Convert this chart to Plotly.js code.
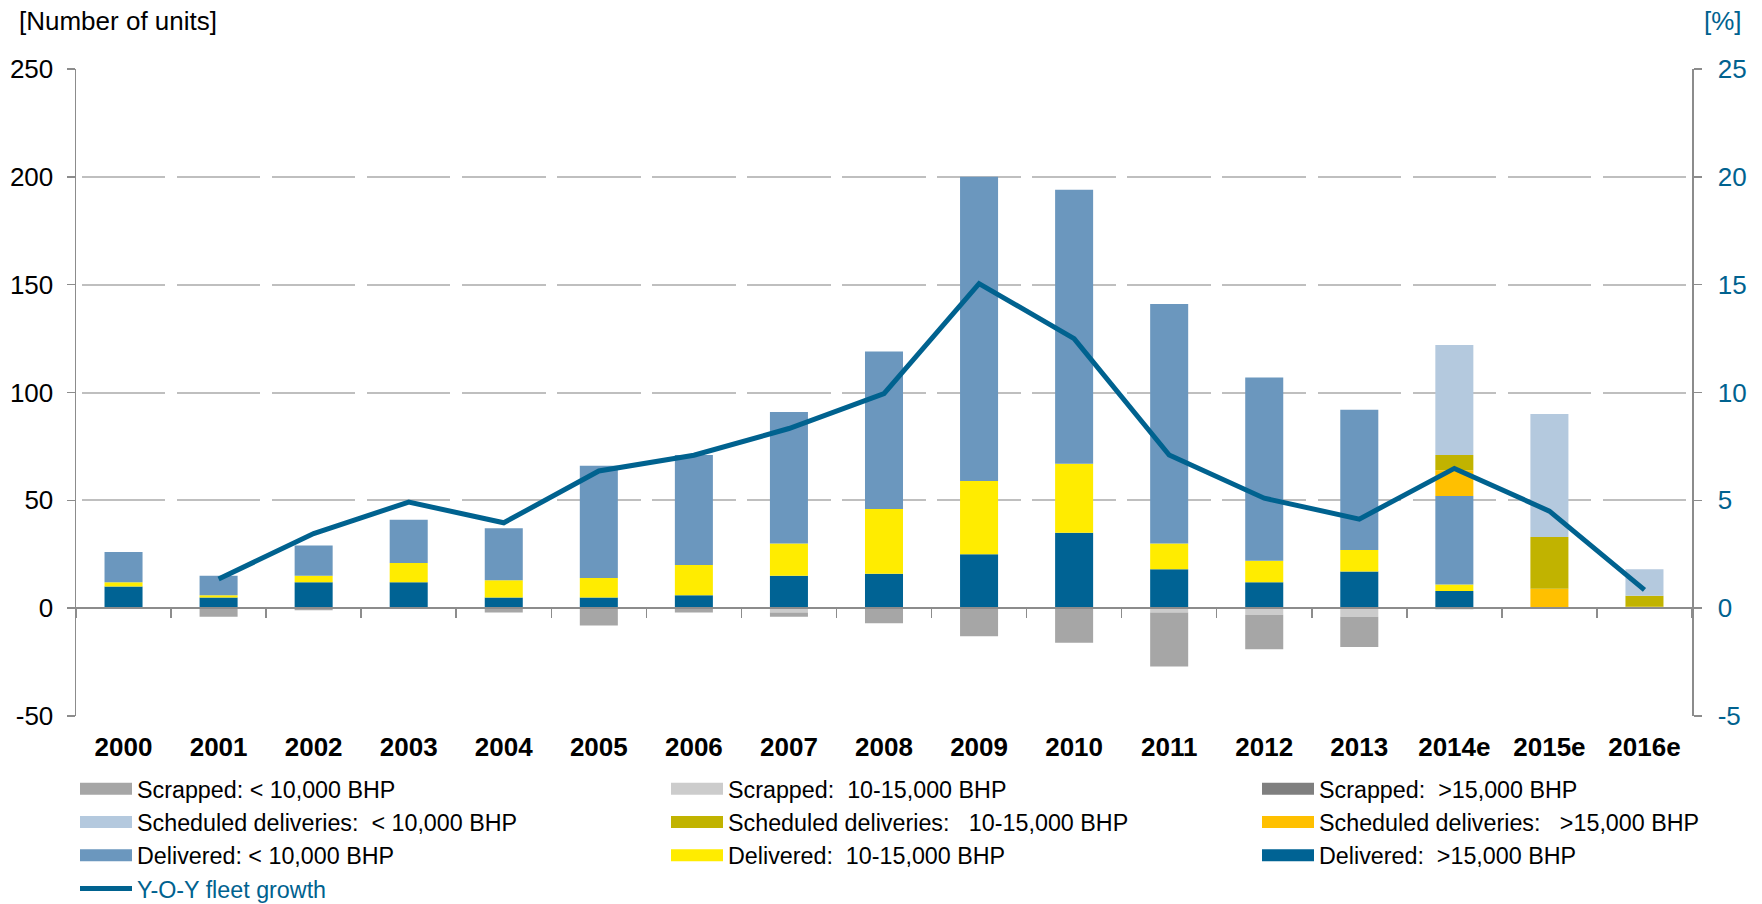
<!DOCTYPE html>
<html>
<head>
<meta charset="utf-8">
<script src="https://cdn.plot.ly/plotly-3.0.1.min.js"></script>
<style>
html,body{margin:0;padding:0;background:#ffffff;}
#chart{width:1762px;height:904px;}
</style>
</head>
<body>
<div id="chart"></div>
<script>
// ---------- data ----------
const years = ['2000','2001','2002','2003','2004','2005','2006','2007','2008','2009','2010','2011','2012','2013','2014e','2015e','2016e'];

const deliveredGt15   = [10, 5, 12, 12, 5, 5, 6, 15, 16, 25, 35, 18, 12, 17, 8, 0, 0];
const delivered10to15 = [2, 1, 3, 9, 8, 9, 14, 15, 30, 34, 32, 12, 10, 10, 3, 0, 0];
const deliveredLt10   = [14, 9, 14, 20, 24, 52, 51, 61, 73, 141, 127, 111, 85, 65, 41, 0, 0];

const scheduledGt15   = [0, 0, 0, 0, 0, 0, 0, 0, 0, 0, 0, 0, 0, 0, 12, 9, 0.7];
const scheduled10to15 = [0, 0, 0, 0, 0, 0, 0, 0, 0, 0, 0, 0, 0, 0, 7, 24, 5];
const scheduledLt10   = [0, 0, 0, 0, 0, 0, 0, 0, 0, 0, 0, 0, 0, 0, 51, 57, 12.3];

const scrapped10to15  = [0, 0, 0, 0, 0, 0, 0, -2, 0, 0, 0, -2, -3, -4, 0, 0, 0];
const scrappedLt10    = [0, -4, -1, 0, -2, -8, -2, -2, -7, -13, -16, -25, -16, -14, -0.5, 0, 0];
const scrappedGt15    = [0, 0, 0, 0, 0, 0, 0, 0, 0, 0, 0, 0, 0, 0, 0, 0, 0];

const fleetGrowth = [null, 1.35, 3.46, 4.92, 3.96, 6.36, 7.09, 8.33, 9.95, 15.05, 12.5, 7.1, 5.1, 4.13, 6.48, 4.5, 0.85];

const leftTickVals  = [-50, 0, 50, 100, 150, 200, 250];
const leftTickText  = ['-50', '0', '50', '100', '150', '200', '250'];
const rightTickVals = [-5, 0, 5, 10, 15, 20, 25];
const rightTickText = ['-5', '0', '5', '10', '15', '20', '25'];

// ---------- styles ----------
const C = {
  delGt15: '#006394', del10: '#ffec00', delLt10: '#6b97be',
  schGt15: '#ffc000', sch10: '#c1b300', schLt10: '#b4c9de',
  scrLt10: '#a6a6a6', scr10: '#cccccc', scrGt15: '#7f7f7f',
  line: '#00628f', axis: '#8c8c8c', grid: '#bfbfbf'
};
const NB = '\u00a0';

function bar(name, y, color, legend, rank) {
  return {type: 'bar', name: name, x: years, y: y, marker: {color: color, line: {width: 0}},
          legend: legend, legendrank: rank, hoverinfo: 'skip'};
}

const traces = [
  bar('Delivered:' + NB + ' >15,000 BHP', deliveredGt15, C.delGt15, 'legend3', 3),
  bar('Delivered:' + NB + ' 10-15,000 BHP', delivered10to15, C.del10, 'legend2', 3),
  bar('Delivered: < 10,000 BHP', deliveredLt10, C.delLt10, 'legend', 3),
  bar('Scheduled deliveries:' + NB + NB + ' >15,000 BHP', scheduledGt15, C.schGt15, 'legend3', 2),
  bar('Scheduled deliveries:' + NB + NB + ' 10-15,000 BHP', scheduled10to15, C.sch10, 'legend2', 2),
  bar('Scheduled deliveries:' + NB + ' < 10,000 BHP', scheduledLt10, C.schLt10, 'legend', 2),
  bar('Scrapped:' + NB + ' 10-15,000 BHP', scrapped10to15, C.scr10, 'legend2', 1),
  bar('Scrapped: < 10,000 BHP', scrappedLt10, C.scrLt10, 'legend', 1),
  bar('Scrapped:' + NB + ' >15,000 BHP', scrappedGt15, C.scrGt15, 'legend3', 1),
  {type: 'scatter', mode: 'lines', name: '<span style="color:#00628f">Y-O-Y fleet growth</span>',
   x: years, y: fleetGrowth, xaxis: 'x2', yaxis: 'y2', connectgaps: false,
   line: {color: C.line, width: 5}, legend: 'legend', legendrank: 4, hoverinfo: 'skip'}
];

const W = 1762, H = 904, ML = 76, MR = 70, MT = 69, MB = 188;
const PW = W - ML - MR, PH = H - MT - MB;
const cat = PW / years.length;
const gap = 11.5;
const dash = '0px,' + (gap / 2) + 'px,' + (cat - gap) + 'px,' + (gap / 2) + 'px';

const legendFont = {family: 'Liberation Sans, Arial, sans-serif', size: 23.3, color: '#000'};
function legendAt(px) {
  return {xref: 'container', yref: 'container', x: px / W, y: 1 - 767 / H,
          xanchor: 'left', yanchor: 'top', orientation: 'v', bgcolor: 'rgba(0,0,0,0)',
          borderwidth: 0, font: legendFont, itemwidth: 52, traceorder: 'normal',
          itemclick: false, itemdoubleclick: false};
}

const layout = {
  width: W, height: H,
  margin: {l: ML, r: MR, t: MT, b: MB, pad: 0, autoexpand: false},
  paper_bgcolor: '#ffffff', plot_bgcolor: 'rgba(0,0,0,0)',
  font: {family: 'Liberation Sans, Arial, sans-serif', size: 26, color: '#000'},
  barmode: 'relative', bargap: 0.6,
  hovermode: false, showlegend: true,
  xaxis: {type: 'category', categoryorder: 'array', categoryarray: years, range: [-0.5, years.length - 0.5],
          showgrid: false, zeroline: false, showline: false, ticks: '',
          tickfont: {size: 26, weight: 'bold', color: '#000'}, ticklabelstandoff: 13, fixedrange: true},
  xaxis2: {type: 'category', categoryorder: 'array', categoryarray: years, range: [-0.5, years.length - 0.5],
           overlaying: 'x', anchor: 'free', position: (0 - (-50)) / 300, side: 'bottom',
           showgrid: false, zeroline: false, showline: true, linecolor: C.axis, linewidth: 2,
           ticks: 'outside', tickson: 'boundaries', ticklen: 9, tickwidth: 1.5, tickcolor: C.axis,
           showticklabels: false, fixedrange: true},
  yaxis: {range: [-50, 250], tickmode: 'array', tickvals: leftTickVals, ticktext: leftTickText,
          showgrid: true, gridcolor: C.grid, gridwidth: 2, griddash: dash, zeroline: false,
          showline: true, linecolor: C.axis, linewidth: 1.5, ticks: 'outside', ticklen: 8,
          tickwidth: 1.5, tickcolor: C.axis, tickfont: {size: 26, color: '#000'},
          ticklabelstandoff: 8, fixedrange: true},
  yaxis2: {range: [-5, 25], overlaying: 'y', side: 'right', anchor: 'x', tickmode: 'array',
           tickvals: rightTickVals, ticktext: rightTickText, showgrid: false, zeroline: false,
           showline: true, linecolor: C.axis, linewidth: 1.5, ticks: 'outside', ticklen: 8,
           tickwidth: 1.5, tickcolor: C.axis, tickfont: {size: 26, color: C.line},
           ticklabelstandoff: 11, fixedrange: true},
  legend: legendAt(75),
  legend2: legendAt(666),
  legend3: legendAt(1257),
  annotations: [
    {xref: 'paper', yref: 'paper', x: (17 - ML) / PW, y: 1 + (MT - 21) / PH, xanchor: 'left', yanchor: 'middle',
     text: '[Number of units]', showarrow: false, font: {size: 26, color: '#000'}},
    {xref: 'paper', yref: 'paper', x: (1744 - ML) / PW, y: 1 + (MT - 21) / PH, xanchor: 'right', yanchor: 'middle',
     text: '[%]', showarrow: false, font: {size: 26, color: C.line}}
  ]
};

const gd = document.getElementById('chart');
Plotly.newPlot(gd, traces, layout, {displayModeBar: false, staticPlot: true}).then(function () {
  // widen legend swatches to the rectangular keys of the original
  gd.querySelectorAll('.infolayer g.traces').forEach(function (tr) {
    tr.querySelectorAll('g.legendpoints path').forEach(function (p) {
      p.setAttribute('d', 'M5,-6h52v12h-52z');
      p.removeAttribute('transform');
      p.style.strokeWidth = '0';
    });
    tr.querySelectorAll('g.legendlines path').forEach(function (p) {
      p.setAttribute('d', 'M5,0h52');
    });
  });
});
</script>
</body>
</html>
